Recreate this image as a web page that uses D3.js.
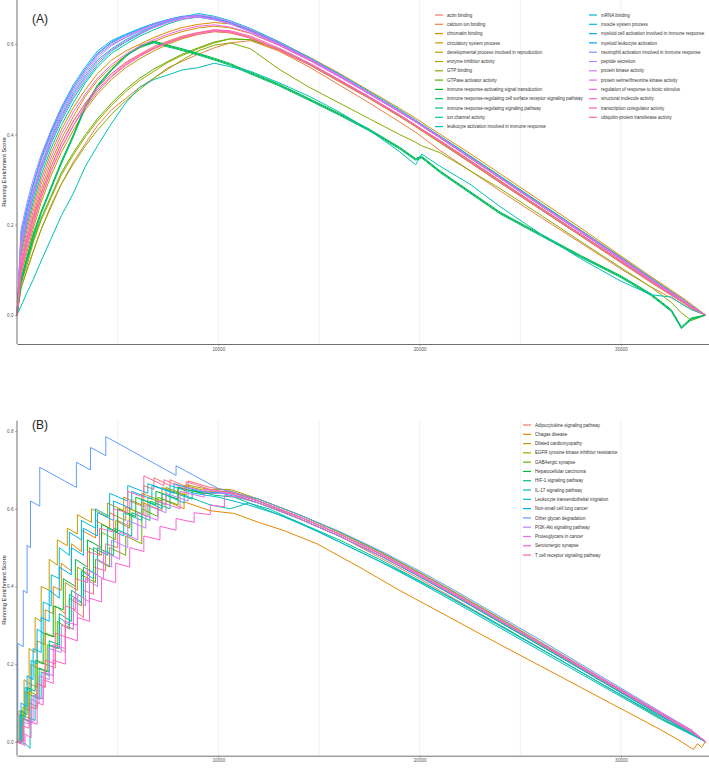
<!DOCTYPE html>
<html><head><meta charset="utf-8">
<script src="https://cdn.jsdelivr.net/npm/d3@7"></script>
<style>body{margin:0;background:#fff} svg{display:block;font-family:"Liberation Sans",Arial,sans-serif}</style>
</head><body><svg id="c" width="709" height="772"></svg>
<script>
// ---------- DATA ----------
const termsA = ["actin binding","calcium ion binding","chromatin binding","circulatory system process","developmental process involved in reproduction","enzyme inhibitor activity","GTP binding","GTPase activator activity","immune response-activating signal transduction","immune response-regulating cell surface receptor signaling pathway","immune response-regulating signaling pathway","ion channel activity","leukocyte activation involved in immune response","mRNA binding","muscle system process","myeloid cell activation involved in immune response","myeloid leukocyte activation","neutrophil activation involved in immune response","peptide secretion","protein kinase activity","protein serine/threonine kinase activity","regulation of response to biotic stimulus","structural molecule activity","transcription coregulator activity","ubiquitin-protein transferase activity"];
// rank position (thousands) shared by the panel A curves
const rankA = [0,0.2,0.5,0.8,1.2,1.7,2.2,2.8,3.4,4.0,4.7,5.4,6.1,6.8,7.5,8.2,9.0,9.8,10.6,11.6,13,14.5,16,17.5,19,19.8,20.1,21,22.5,24,26,28,30,31.5,32.5,33,33.5,34.2];
const esA = [
 [0,.10,.16,.21,.27,.33,.38,.43,.47,.505,.535,.56,.578,.595,.607,.618,.626,.632,.628,.615,.588,.555,.518,.48,.44,.418,.409,.383,.338,.293,.234,.176,.117,.073,.044,.03,.016,0],
 [0,.06,.10,.14,.19,.245,.29,.34,.38,.42,.455,.48,.505,.525,.548,.562,.578,.592,.603,.608,.585,.55,.51,.47,.428,.405,.395,.365,.32,.275,.217,.16,.102,.062,.038,.026,.013,0],
 [0,.13,.19,.24,.30,.36,.41,.46,.50,.535,.565,.585,.60,.615,.627,.637,.644,.648,.645,.632,.605,.572,.536,.497,.458,.436,.427,.401,.358,.313,.253,.193,.131,.085,.055,.04,.024,0],
 [0,.11,.17,.22,.28,.34,.39,.44,.485,.52,.55,.575,.592,.606,.618,.628,.636,.64,.636,.624,.598,.565,.529,.49,.452,.43,.421,.396,.352,.307,.247,.188,.128,.082,.052,.037,.021,0],
 [0,.09,.14,.19,.25,.31,.36,.41,.455,.49,.522,.548,.568,.585,.6,.612,.622,.628,.625,.614,.588,.556,.52,.482,.443,.42,.412,.387,.343,.298,.238,.179,.12,.075,.046,.032,.018,0],
 [0,.07,.11,.16,.21,.26,.31,.355,.395,.43,.465,.495,.52,.54,.56,.575,.59,.603,.612,.61,.587,.555,.517,.48,.44,.417,.408,.382,.338,.293,.234,.175,.116,.072,.044,.03,.016,0],
 [0,.06,.10,.14,.19,.24,.29,.335,.375,.41,.445,.475,.50,.525,.545,.565,.585,.598,.603,.59,.545,.505,.47,.435,.40,.383,.375,.36,.32,.28,.222,.163,.105,.062,.028,.005,-.012,0],
 [0,.08,.12,.165,.215,.265,.315,.36,.40,.435,.47,.50,.525,.545,.562,.578,.592,.605,.612,.61,.59,.557,.52,.482,.442,.42,.411,.386,.342,.297,.238,.179,.12,.075,.046,.032,.017,0],
 [0,.08,.13,.18,.23,.285,.34,.40,.465,.51,.545,.575,.595,.605,.596,.588,.578,.567,.555,.536,.51,.478,.445,.41,.37,.345,.35,.318,.272,.226,.178,.13,.085,.045,.01,-.028,-.008,0],
 [0,.07,.12,.17,.225,.28,.335,.395,.46,.505,.542,.572,.597,.607,.598,.59,.58,.569,.557,.538,.512,.48,.447,.412,.372,.347,.352,.32,.274,.228,.18,.132,.087,.047,.012,-.026,-.006,0],
 [0,.075,.125,.175,.228,.283,.338,.398,.462,.508,.544,.574,.593,.603,.594,.586,.576,.565,.553,.534,.508,.476,.443,.408,.368,.343,.348,.316,.27,.224,.176,.128,.083,.043,.008,-.03,-.01,0],
 [0,.14,.20,.25,.31,.37,.42,.47,.515,.55,.58,.60,.618,.632,.645,.655,.66,.655,.646,.63,.602,.568,.531,.492,.452,.429,.42,.394,.35,.305,.245,.186,.126,.08,.05,.036,.02,0],
 [0,.02,.05,.078,.12,.17,.22,.27,.33,.375,.425,.47,.505,.522,.532,.543,.548,.558,.55,.54,.515,.485,.45,.41,.362,.333,.357,.33,.29,.24,.18,.125,.075,.045,.04,.025,.012,0],
 [0,.15,.21,.26,.32,.38,.43,.48,.52,.555,.585,.605,.622,.638,.65,.66,.668,.662,.652,.635,.606,.571,.534,.495,.455,.432,.423,.397,.353,.308,.248,.188,.128,.082,.052,.037,.021,0],
 [0,.16,.22,.27,.33,.39,.44,.49,.53,.565,.59,.61,.625,.64,.652,.66,.664,.657,.647,.63,.601,.567,.53,.49,.45,.428,.419,.393,.348,.303,.243,.184,.124,.078,.049,.035,.019,0],
 [0,.18,.24,.29,.35,.41,.46,.51,.55,.585,.608,.622,.635,.646,.655,.662,.664,.658,.648,.631,.603,.569,.532,.492,.452,.43,.421,.395,.35,.305,.245,.185,.125,.079,.05,.035,.019,0],
 [0,.17,.23,.285,.345,.405,.455,.505,.545,.58,.605,.62,.633,.645,.654,.661,.663,.657,.647,.63,.602,.568,.531,.491,.451,.429,.42,.394,.349,.304,.244,.185,.125,.079,.049,.035,.019,0],
 [0,.17,.235,.285,.345,.40,.45,.50,.54,.575,.60,.615,.628,.64,.65,.657,.66,.654,.645,.628,.6,.566,.529,.49,.45,.428,.419,.393,.348,.303,.244,.184,.124,.078,.049,.034,.018,0],
 [0,.19,.25,.30,.355,.41,.46,.505,.545,.578,.603,.618,.632,.644,.654,.66,.662,.655,.645,.628,.6,.566,.53,.49,.45,.428,.419,.393,.348,.303,.243,.183,.123,.078,.048,.034,.018,0],
 [0,.16,.22,.275,.335,.395,.445,.495,.535,.57,.597,.615,.63,.643,.653,.66,.665,.66,.65,.633,.604,.569,.532,.492,.452,.43,.421,.395,.35,.305,.245,.186,.126,.08,.05,.036,.02,0],
 [0,.15,.21,.265,.325,.385,.435,.485,.525,.56,.588,.607,.623,.637,.648,.656,.661,.656,.646,.629,.601,.567,.53,.491,.451,.429,.42,.394,.349,.304,.244,.185,.125,.079,.049,.035,.019,0],
 [0,.12,.18,.23,.29,.35,.40,.45,.49,.525,.555,.578,.596,.61,.622,.632,.64,.643,.638,.625,.598,.565,.528,.49,.45,.428,.419,.393,.348,.303,.243,.184,.124,.078,.049,.034,.018,0],
 [0,.10,.16,.20,.26,.32,.37,.42,.46,.495,.528,.553,.573,.59,.603,.615,.625,.632,.63,.618,.592,.559,.522,.484,.444,.421,.412,.387,.342,.297,.238,.179,.12,.075,.046,.032,.017,0],
 [0,.11,.17,.215,.27,.33,.38,.43,.47,.505,.535,.558,.577,.592,.605,.616,.625,.63,.627,.615,.589,.556,.52,.482,.443,.42,.411,.385,.34,.295,.236,.177,.118,.074,.045,.031,.016,0],
 [0,.09,.15,.20,.26,.32,.37,.42,.465,.50,.53,.555,.575,.59,.603,.614,.622,.628,.626,.613,.587,.555,.518,.48,.441,.418,.409,.384,.339,.294,.235,.176,.117,.073,.045,.031,.016,0]
];

const termsB = ["Adipocytokine signaling pathway","Chagas disease","Dilated cardiomyopathy","EGFR tyrosine kinase inhibitor resistance","GABAergic synapse","Hepatocellular carcinoma","HIF-1 signaling pathway","IL-17 signaling pathway","Leukocyte transendothelial migration","Non-small cell lung cancer","Other glycan degradation","PI3K-Akt signaling pathway","Proteoglycans in cancer","Serotonergic synapse","T cell receptor signaling pathway"];
// [rank (thousands), running enrichment score]
const esB = [
 [[0,0],[0.3,0.02],[0.3,0.06],[0.6,0.05],[0.6,0.1],[1.0,0.09],[1.0,0.15],[1.4,0.14],[1.4,0.2],[1.9,0.19],[1.9,0.25],[2.4,0.23],[2.4,0.3],[2.8,0.29],[2.8,0.34],[3.3,0.32],[3.3,0.39],[3.8,0.38],[3.8,0.45],[4.4,0.44],[4.4,0.51],[5.0,0.50],[5.0,0.57],[5.6,0.555],[5.6,0.62],[6.3,0.605],[6.3,0.66],[6.8,0.65],[6.8,0.68],[7.6,0.66],[7.6,0.675],[8.5,0.655],[8.5,0.672],[9.6,0.655],[10.5,0.648],[12,0.62],[14,0.575],[16,0.53],[18,0.475],[20,0.42],[22,0.36],[24,0.30],[26,0.24],[28,0.18],[30,0.12],[32,0.06],[33.5,0.02],[34.2,0]],
 [[0,0],[0.15,-0.005],[0.15,0.07],[0.4,0.065],[0.4,0.13],[0.7,0.12],[0.7,0.2],[1.0,0.19],[1.0,0.26],[1.4,0.25],[1.4,0.34],[1.8,0.33],[1.8,0.40],[2.2,0.39],[2.2,0.46],[2.7,0.44],[2.7,0.51],[3.2,0.49],[3.2,0.545],[3.9,0.525],[3.9,0.57],[4.6,0.55],[4.6,0.59],[5.4,0.57],[5.4,0.605],[6.3,0.585],[6.3,0.615],[7.2,0.595],[7.2,0.625],[8.3,0.6],[8.3,0.618],[9.6,0.595],[10.8,0.588],[12,0.565],[13.2,0.545],[14.9,0.51],[17,0.45],[19,0.39],[21.5,0.32],[24,0.25],[26,0.195],[28,0.14],[30,0.085],[32,0.03],[33,0.0],[33.6,-0.02],[33.8,-0.005],[34.0,-0.015],[34.2,0]],
 [[0,0],[0.1,0],[0.1,0.08],[0.35,0.07],[0.35,0.16],[0.6,0.15],[0.6,0.24],[0.9,0.23],[0.9,0.32],[1.2,0.31],[1.2,0.4],[1.6,0.39],[1.6,0.47],[2.0,0.455],[2.0,0.52],[2.5,0.505],[2.5,0.55],[3.0,0.535],[3.0,0.585],[3.7,0.565],[3.7,0.6],[4.5,0.58],[4.5,0.615],[5.3,0.595],[5.3,0.63],[6.2,0.61],[6.2,0.64],[7.2,0.62],[7.2,0.655],[8.3,0.635],[8.3,0.66],[9.5,0.645],[10.5,0.645],[12,0.62],[14,0.58],[16,0.535],[18,0.485],[20,0.43],[22,0.37],[24,0.31],[26,0.25],[28,0.19],[30,0.128],[32,0.068],[33.5,0.025],[34.2,0]],
 [[0,0],[0.3,0],[0.3,0.09],[0.6,0.08],[0.6,0.15],[1.0,0.14],[1.0,0.21],[1.4,0.2],[1.4,0.28],[1.9,0.27],[1.9,0.35],[2.4,0.33],[2.4,0.41],[3.0,0.39],[3.0,0.45],[3.6,0.43],[3.6,0.5],[4.2,0.48],[4.2,0.54],[4.9,0.52],[4.9,0.57],[5.6,0.55],[5.6,0.6],[6.5,0.58],[6.5,0.63],[7.4,0.61],[7.4,0.655],[8.4,0.635],[8.4,0.662],[9.5,0.65],[10.6,0.65],[12,0.625],[14,0.585],[16,0.54],[18,0.49],[20,0.436],[22,0.378],[24,0.318],[26,0.257],[28,0.196],[30,0.134],[32,0.072],[33.5,0.027],[34.2,0]],
 [[0,0],[0.25,0],[0.25,0.07],[0.6,0.06],[0.6,0.13],[1.0,0.12],[1.0,0.19],[1.5,0.18],[1.5,0.25],[2.0,0.24],[2.0,0.31],[2.6,0.29],[2.6,0.37],[3.2,0.35],[3.2,0.43],[3.9,0.41],[3.9,0.47],[4.6,0.45],[4.6,0.5],[5.4,0.48],[5.4,0.53],[6.2,0.51],[6.2,0.6],[7.0,0.58],[7.0,0.63],[8.0,0.61],[8.0,0.655],[9.2,0.64],[10.5,0.645],[12,0.625],[14,0.585],[16,0.54],[18,0.49],[20,0.435],[22,0.376],[24,0.316],[26,0.255],[28,0.194],[30,0.132],[32,0.07],[33.5,0.025],[34.2,0]],
 [[0,0],[0.2,0],[0.2,0.08],[0.5,0.07],[0.5,0.14],[0.9,0.13],[0.9,0.21],[1.3,0.2],[1.3,0.28],[1.8,0.27],[1.8,0.35],[2.3,0.34],[2.3,0.42],[2.9,0.4],[2.9,0.47],[3.5,0.45],[3.5,0.52],[4.2,0.5],[4.2,0.56],[5.0,0.54],[5.0,0.6],[5.9,0.58],[5.9,0.63],[6.9,0.61],[6.9,0.645],[8.0,0.625],[8.0,0.655],[9.2,0.64],[10.5,0.64],[12,0.615],[14,0.575],[16,0.53],[18,0.48],[20,0.425],[22,0.367],[24,0.307],[26,0.247],[28,0.187],[30,0.126],[32,0.066],[33.5,0.023],[34.2,0]],
 [[0,0],[0.3,0],[0.3,0.06],[0.7,0.05],[0.7,0.12],[1.1,0.11],[1.1,0.19],[1.6,0.18],[1.6,0.26],[2.1,0.25],[2.1,0.33],[2.7,0.31],[2.7,0.39],[3.3,0.37],[3.3,0.45],[4.0,0.43],[4.0,0.5],[4.8,0.48],[4.8,0.55],[5.7,0.53],[5.7,0.59],[6.6,0.57],[6.6,0.62],[7.6,0.6],[7.6,0.645],[8.7,0.625],[8.7,0.65],[9.8,0.635],[10.8,0.63],[12,0.605],[14,0.565],[16,0.52],[18,0.47],[20,0.415],[22,0.358],[24,0.3],[26,0.24],[28,0.18],[30,0.12],[32,0.06],[33.5,0.02],[34.2,0]],
 [[0,0],[0.4,-0.005],[0.65,-0.017],[0.65,0.06],[0.9,0.055],[0.9,0.12],[1.2,0.11],[1.2,0.18],[1.6,0.17],[1.6,0.25],[2.1,0.24],[2.1,0.32],[2.6,0.3],[2.6,0.38],[3.2,0.36],[3.2,0.44],[3.8,0.42],[3.8,0.5],[4.5,0.48],[4.5,0.55],[5.3,0.53],[5.3,0.59],[6.2,0.57],[6.2,0.625],[7.2,0.6],[7.2,0.64],[8.3,0.615],[8.3,0.635],[9.6,0.61],[10.6,0.6],[11.5,0.615],[12.5,0.6],[14,0.565],[16,0.515],[18,0.465],[20,0.41],[22,0.352],[24,0.293],[26,0.234],[28,0.175],[30,0.116],[32,0.057],[33.5,0.018],[34.2,0]],
 [[0,0],[0.15,0],[0.15,0.07],[0.4,0.06],[0.4,0.14],[0.7,0.13],[0.7,0.21],[1.0,0.2],[1.0,0.29],[1.3,0.28],[1.3,0.36],[1.7,0.35],[1.7,0.43],[2.1,0.42],[2.1,0.5],[2.6,0.48],[2.6,0.54],[3.2,0.52],[3.2,0.57],[3.9,0.55],[3.9,0.6],[4.6,0.58],[4.6,0.64],[5.5,0.62],[5.5,0.66],[6.5,0.64],[6.5,0.665],[7.6,0.645],[7.6,0.66],[8.8,0.64],[10,0.63],[11.5,0.61],[13,0.585],[15,0.54],[17,0.49],[19,0.44],[21,0.385],[23,0.327],[25,0.268],[27,0.21],[29,0.15],[31,0.092],[32.5,0.05],[33.5,0.02],[34.2,0]],
 [[0,0],[0.2,0],[0.2,0.1],[0.5,0.09],[0.5,0.17],[0.8,0.16],[0.8,0.24],[1.2,0.23],[1.2,0.32],[1.6,0.31],[1.6,0.39],[2.1,0.37],[2.1,0.45],[2.7,0.43],[2.7,0.5],[3.3,0.48],[3.3,0.55],[4.0,0.53],[4.0,0.59],[4.8,0.57],[4.8,0.62],[5.7,0.6],[5.7,0.645],[6.7,0.625],[6.7,0.66],[7.8,0.64],[7.8,0.665],[9.0,0.645],[10.2,0.64],[12,0.615],[14,0.575],[16,0.53],[18,0.48],[20,0.425],[22,0.367],[24,0.308],[26,0.248],[28,0.188],[30,0.127],[32,0.067],[33.5,0.024],[34.2,0]],
 [[0,0],[0.04,0],[0.04,0.253],[0.31,0.245],[0.31,0.39],[0.5,0.383],[0.5,0.506],[0.67,0.50],[0.67,0.62],[1.13,0.607],[1.13,0.707],[2.95,0.655],[2.95,0.72],[3.65,0.70],[3.65,0.758],[4.41,0.737],[4.41,0.786],[7.9,0.686],[7.9,0.711],[10,0.652],[12,0.625],[14,0.585],[16,0.542],[18,0.493],[20,0.44],[22,0.382],[24,0.322],[26,0.262],[28,0.2],[30,0.138],[32,0.076],[33.5,0.03],[34.2,0]],
 [[0,0],[0.3,0],[0.3,0.05],[0.7,0.045],[0.7,0.11],[1.1,0.1],[1.1,0.17],[1.6,0.16],[1.6,0.24],[2.2,0.23],[2.2,0.3],[2.8,0.29],[2.8,0.37],[3.4,0.35],[3.4,0.42],[4.0,0.4],[4.0,0.47],[4.7,0.45],[4.7,0.52],[5.5,0.5],[5.5,0.57],[6.4,0.55],[6.4,0.61],[7.4,0.59],[7.4,0.64],[8.5,0.62],[8.5,0.655],[9.7,0.64],[10.8,0.64],[12,0.62],[14,0.58],[16,0.535],[18,0.485],[20,0.43],[22,0.372],[24,0.312],[26,0.252],[28,0.191],[30,0.13],[32,0.069],[33.5,0.025],[34.2,0]],
 [[0,0],[0.35,0],[0.35,0.06],[0.8,0.05],[0.8,0.12],[1.3,0.11],[1.3,0.18],[1.8,0.17],[1.8,0.25],[2.4,0.24],[2.4,0.31],[3.0,0.3],[3.0,0.38],[3.6,0.36],[3.6,0.44],[4.3,0.42],[4.3,0.49],[5.1,0.47],[5.1,0.54],[6.0,0.52],[6.0,0.59],[7.0,0.57],[7.0,0.62],[8.1,0.6],[8.1,0.645],[9.3,0.63],[9.3,0.65],[10.5,0.64],[12,0.62],[14,0.58],[16,0.536],[18,0.487],[20,0.433],[22,0.375],[24,0.315],[26,0.255],[28,0.195],[30,0.134],[32,0.072],[33.5,0.027],[34.2,0]],
 [[0,0],[0.4,-0.01],[0.4,0.02],[0.7,0.01],[0.7,0.05],[1.0,0.045],[1.0,0.1],[1.3,0.095],[1.3,0.16],[1.8,0.15],[1.8,0.21],[2.4,0.2],[2.4,0.27],[3.0,0.26],[3.0,0.32],[3.6,0.31],[3.6,0.37],[4.2,0.36],[4.2,0.42],[4.9,0.41],[4.9,0.46],[5.6,0.45],[5.6,0.5],[6.3,0.49],[6.3,0.53],[7.1,0.52],[7.1,0.555],[7.9,0.545],[7.9,0.575],[8.8,0.565],[8.8,0.59],[9.6,0.585],[9.6,0.61],[10.3,0.605],[10.3,0.635],[11,0.63],[12,0.615],[14,0.575],[16,0.53],[18,0.481],[20,0.427],[22,0.37],[24,0.311],[26,0.252],[28,0.193],[30,0.134],[32,0.074],[33.5,0.03],[34.2,0]],
 [[0,0],[0.3,0],[0.3,0.04],[0.6,0.035],[0.6,0.09],[1.0,0.085],[1.0,0.15],[1.4,0.14],[1.4,0.21],[1.9,0.2],[1.9,0.28],[2.4,0.27],[2.4,0.35],[2.9,0.34],[2.9,0.42],[3.5,0.41],[3.5,0.49],[4.1,0.48],[4.1,0.55],[4.8,0.54],[4.8,0.6],[5.5,0.59],[5.5,0.645],[6.3,0.63],[6.3,0.685],[7.3,0.66],[7.3,0.675],[8.4,0.65],[8.4,0.67],[9.6,0.65],[10.8,0.64],[12,0.62],[14,0.58],[16,0.535],[18,0.485],[20,0.43],[22,0.372],[24,0.312],[26,0.252],[28,0.191],[30,0.13],[32,0.069],[33.5,0.025],[34.2,0]]
];

const xTicks = [10000, 20000, 30000];
const xGrid = [5000, 10000, 15000, 20000, 25000, 30000];
const yTicksA = [0, 0.2, 0.4, 0.6];
const yTicksB = [0, 0.2, 0.4, 0.6, 0.8];

// ---------- DRAW ----------
const svg = d3.select("#c");
svg.append("rect").attr("width", 709).attr("height", 772).attr("fill", "#fff");

// ggplot2 default hue palette: hcl(h, c=100, l=65) in CIE-LUV polar coordinates
function polarLuvHex(h, c, l) {
  const hr = h * Math.PI / 180;
  const U = c * Math.cos(hr), V = c * Math.sin(hr);
  const Xn = 95.047, Yn = 100, Zn = 108.883;
  const Y = l > 8 ? Yn * Math.pow((l + 16) / 116, 3) : Yn * l / 903.3;
  const den = Xn + 15 * Yn + 3 * Zn;
  const un = 4 * Xn / den, vn = 9 * Yn / den;
  const up = U / (13 * l) + un, vp = V / (13 * l) + vn;
  const X = 9 * Y * up / (4 * vp);
  const Z = -X / 3 - 5 * Y + 3 * Y / vp;
  const x = X / 100, y = Y / 100, z = Z / 100;
  const lin = [
    3.240479 * x - 1.537150 * y - 0.498535 * z,
    -0.969256 * x + 1.875992 * y + 0.041556 * z,
    0.055648 * x - 0.204043 * y + 1.057311 * z
  ];
  const gam = v => v <= 0.0031308 ? 12.92 * v : 1.055 * Math.pow(v, 1 / 2.4) - 0.055;
  const rgb = lin.map(v => Math.round(255 * Math.max(0, Math.min(1, gam(v)))));
  return d3.rgb(rgb[0], rgb[1], rgb[2]).formatHex();
}
function huePal(n) {
  return d3.range(n).map(i => polarLuvHex(15 + 360 * i / n, 100, 65));
}

function drawPanel(cfg) {
  const g = svg.append("g");
  const x = d3.scaleLinear().domain([0, 34370]).range([17, 709]);
  const y = d3.scaleLinear().domain(cfg.yDom).range([cfg.bottom, cfg.top]);
  const colors = huePal(cfg.terms.length);

  g.selectAll("line.grid").data(xGrid).join("line")
    .attr("x1", d => x(d)).attr("x2", d => x(d))
    .attr("y1", cfg.top).attr("y2", cfg.bottom)
    .attr("stroke", "#ebebeb").attr("stroke-width", 0.7);

  const line = d3.line().x(d => x(d[0] * 1000)).y(d => y(d[1]));
  g.selectAll("path.es").data(cfg.series).join("path")
    .attr("fill", "none")
    .attr("stroke", (d, i) => colors[i])
    .attr("stroke-width", cfg.lw)
    .attr("stroke-linejoin", "round")
    .attr("d", line);

  // axes
  const ax = g.append("g").attr("transform", `translate(0,${cfg.bottom})`)
    .call(d3.axisBottom(x).tickValues(xTicks).tickSize(2).tickSizeOuter(0).tickPadding(1.5).tickFormat(d3.format("d")));
  const ay = g.append("g").attr("transform", `translate(17,0)`)
    .call(d3.axisLeft(y).tickValues(cfg.yTicks).tickSize(2).tickSizeOuter(0).tickPadding(1.5).tickFormat(d3.format(".1f")));
  [ax, ay].forEach(a => {
    a.select(".domain").attr("stroke", "#6e6e6e").attr("stroke-width", 1);
    a.selectAll(".tick line").attr("stroke", "#6e6e6e").attr("stroke-width", 0.6);
    a.selectAll(".tick text").attr("fill", "#555").style("font-size", "4.6px").style("font-family", "Liberation Sans, Arial, sans-serif");
  });
  ay.select(".domain").attr("d", `M0,${cfg.top}V${cfg.bottom}`);

  // y title
  g.append("text")
    .attr("transform", `translate(6,${cfg.titleY}) rotate(-90)`)
    .attr("text-anchor", "middle")
    .attr("font-size", 5.8).attr("fill", "#222")
    .text("Running Enrichment Score");

  // panel tag
  g.append("text").attr("x", cfg.tagX).attr("y", cfg.tagY)
    .attr("font-size", 12).attr("fill", "#222").text(cfg.tag);

  // legend
  const leg = g.append("g");
  cfg.terms.forEach((t, i) => {
    const col = Math.floor(i / cfg.perCol);
    const row = i % cfg.perCol;
    const lx = cfg.legX[col], ly = cfg.legY + row * cfg.legStep;
    leg.append("line").attr("x1", lx).attr("x2", lx + 8).attr("y1", ly).attr("y2", ly)
      .attr("stroke", colors[i]).attr("stroke-width", 1.2);
    leg.append("text").attr("x", lx + 12).attr("y", ly + 1.6)
      .attr("font-size", 4.5).attr("fill", "#333").text(t);
  });
}

drawPanel({
  terms: termsA,
  series: esA.map(ys => d3.zip(rankA, ys)),
  yDom: [-0.064, 0.698], top: 0, bottom: 344, lw: 1,
  yTicks: yTicksA, titleY: 172, tag: "(A)", tagX: 32, tagY: 23,
  legX: [435, 589], legY: 15, legStep: 9.3, perCol: 13
});

drawPanel({
  terms: termsB,
  series: esB,
  yDom: [-0.036, 0.827], top: 420.7, bottom: 755.7, lw: 1,
  yTicks: yTicksB, titleY: 590, tag: "(B)", tagX: 32, tagY: 429,
  legX: [523], legY: 425, legStep: 9.29, perCol: 15
});
</script>
</body></html>
